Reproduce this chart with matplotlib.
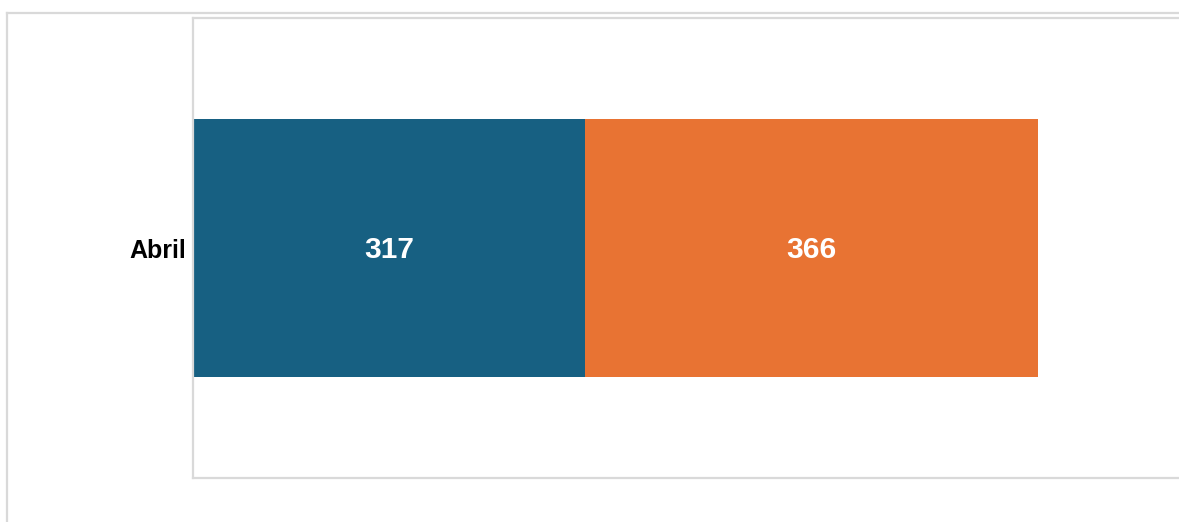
import matplotlib
matplotlib.use("Agg")
import matplotlib.pyplot as plt

categories = ["Abril"]
series_a = [317]
series_b = [366]
colors = ["#176082", "#E87333"]

W, H = 1179, 522
fig = plt.figure(figsize=(W / 100, H / 100), dpi=100)
fig.patch.set_facecolor("white")

# outer frame (open at right and bottom)
fig.add_artist(plt.Line2D([7 / W, 7 / W], [0, 1 - 12.5 / H], transform=fig.transFigure,
                          color="#d9d9d9", lw=1.6))
fig.add_artist(plt.Line2D([7 / W, 1.0], [1 - 12.5 / H, 1 - 12.5 / H], transform=fig.transFigure,
                          color="#d9d9d9", lw=1.6))

left = 193 / W
bottom = (H - 478) / H
height = 460 / H
xmax = 800
width_px = xmax * 1.2375
ax = fig.add_axes([left, bottom, width_px / W, height])

y = list(range(len(categories)))
ax.barh(y, series_a, height=0.56, color=colors[0], linewidth=0)
ax.barh(y, series_b, left=series_a, height=0.56, color=colors[1], linewidth=0)

for i in range(len(categories)):
    ax.text(series_a[i] / 2, y[i] - 0.004, str(series_a[i]), ha="center", va="center",
            color="white", fontsize=21.5, fontweight="bold", family="Liberation Sans")
    ax.text(series_a[i] + series_b[i] / 2, y[i] - 0.004, str(series_b[i]), ha="center", va="center",
            color="white", fontsize=21.5, fontweight="bold", family="Liberation Sans")

ax.set_xlim(0, xmax)
ax.set_ylim(-0.5, 0.5)
ax.set_yticks(y)
ax.set_yticklabels(categories, fontsize=18, fontweight="bold", family="Liberation Sans",
                   color="black")
ax.tick_params(axis="y", length=0, pad=5)
ax.set_xticks([])
for s in ["left", "top", "bottom", "right"]:
    ax.spines[s].set_color("#d9d9d9")
    ax.spines[s].set_linewidth(1.6)

fig.savefig("out.png", dpi=100)
